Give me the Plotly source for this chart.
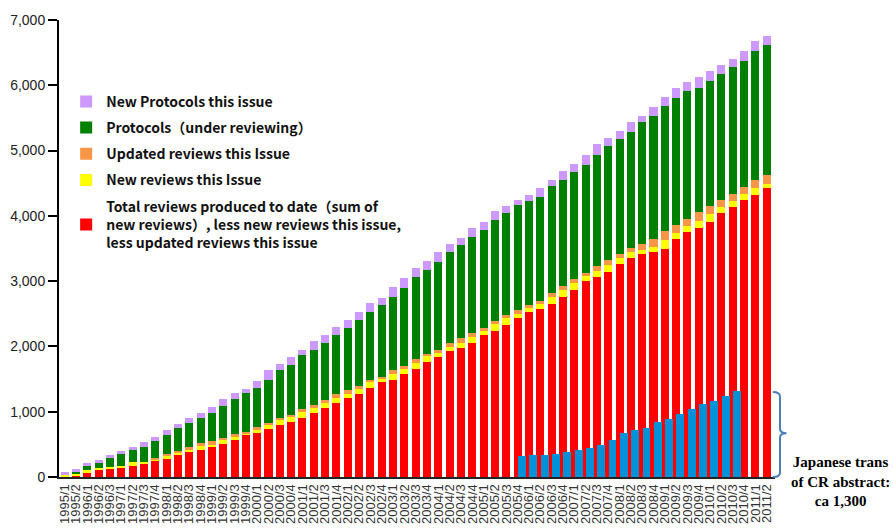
import plotly.graph_objects as go

issues = ["1995/1", "1995/2", "1996/1", "1996/2", "1996/3",
          "1997/1", "1997/2", "1997/3", "1997/4",
          "1998/1", "1998/2", "1998/3", "1998/4",
          "1999/1", "1999/2", "1999/3", "1999/4",
          "2000/1", "2000/2", "2000/3", "2000/4",
          "2001/1", "2001/2", "2001/3", "2001/4",
          "2002/1", "2002/2", "2002/3", "2002/4",
          "2003/1", "2003/2", "2003/3", "2003/4",
          "2004/1", "2004/2", "2004/3", "2004/4",
          "2005/1", "2005/2", "2005/3", "2005/4",
          "2006/1", "2006/2", "2006/3", "2006/4",
          "2007/1", "2007/2", "2007/3", "2007/4",
          "2008/1", "2008/2", "2008/3", "2008/4",
          "2009/1", "2009/2", "2009/3", "2009/4",
          "2010/1", "2010/2", "2010/3", "2010/4",
          "2011/1", "2011/2"]

total_reviews_less = [5, 15, 56, 102, 117, 148, 163, 194, 240, 270, 332, 377, 408,
                      454, 500, 561, 638, 680, 730, 790, 840, 898, 974, 1051, 1127,
                      1204, 1265, 1357, 1448, 1479, 1571, 1647, 1754, 1831, 1923, 1969, 2060,
                      2168, 2244, 2321, 2428, 2535, 2581, 2657, 2764, 2871, 3009, 3070, 3147,
                      3269, 3361, 3422, 3453, 3499, 3652, 3759, 3820, 3912, 4049, 4141, 4248,
                      4325, 4432]
new_reviews = [20, 41, 46, 31, 31, 15, 61, 31, 31, 46, 46, 31, 61,
               31, 61, 46, 31, 50, 70, 77, 73, 91, 92, 76, 77,
               61, 92, 91, 46, 92, 76, 92, 92, 61, 61, 91, 92,
               76, 92, 107, 76, 61, 76, 107, 107, 107, 76, 92, 107,
               92, 92, 61, 76, 137, 91, 92, 107, 122, 92, 92, 92,
               107, 61]
updated_reviews = [0, 0, 0, 0, 0, 0, 0, 0, 15, 31, 15, 46, 46,
                   61, 31, 46, 15, 30, 30, 31, 31, 46, 30, 46, 61,
                   61, 30, 31, 31, 61, 46, 61, 31, 61, 61, 62, 61,
                   31, 46, 46, 61, 31, 46, 61, 62, 62, 46, 77, 76,
                   61, 61, 92, 123, 138, 123, 107, 138, 123, 107, 107, 107,
                   122, 138]
protocols_reviewing = [0, 26, 61, 77, 138, 184, 184, 230, 260, 291, 352, 367, 383,
                       428, 490, 536, 597, 597, 649, 734, 765, 827, 842, 872, 903,
                       949, 1025, 1056, 1102, 1132, 1209, 1270, 1300, 1347, 1408, 1438, 1469,
                       1514, 1560, 1575, 1607, 1606, 1591, 1638, 1621, 1637, 1653, 1698, 1745,
                       1760, 1775, 1867, 1882, 1913, 1943, 1958, 1897, 1912, 1928, 1943, 1928,
                       1974, 1989]
new_protocols = [52, 36, 46, 46, 46, 46, 46, 77, 61, 77, 61, 77, 77,
                 92, 107, 92, 61, 107, 153, 92, 122, 76, 138, 123, 137,
                 137, 123, 137, 122, 153, 153, 138, 138, 153, 122, 107, 138,
                 123, 138, 108, 76, 92, 138, 91, 138, 122, 153, 168, 122,
                 122, 153, 92, 137, 137, 153, 138, 168, 153, 138, 123, 153,
                 153, 138]
japanese_trans = [None] * 40 + [322, 337, 337, 352, 383, 413, 444, 490, 567, 674,
                                720, 750, 842, 888, 965, 1041, 1118, 1164, 1240, 1317] + [None] * 3

series = [
    ("Total reviews produced to date（sum of<br>new reviews）, less new reviews this issue,<br>less updated reviews this issue",
     total_reviews_less, "#FF0000", 5),
    ("New reviews this Issue", new_reviews, "#FFFF00", 4),
    ("Updated reviews this Issue", updated_reviews, "#F79646", 3),
    ("Protocols（under reviewing）", protocols_reviewing, "#008000", 2),
    ("New Protocols this issue", new_protocols, "#CC99FF", 1),
]

fig = go.Figure()
for i, (name, vals, col, rank) in enumerate(series):
    fig.add_trace(go.Bar(x=issues, y=vals, name=name, marker_color=col,
                         marker_line_width=0, legendgroup=f"g{i}", legendrank=rank))

fig.add_trace(go.Bar(x=issues, y=japanese_trans, name="Japanese trans of CR abstract",
                     marker_color="#0092D8", marker_line_width=0, showlegend=False,
                     yaxis="y2", width=0.7, offset=0.03))

fig.update_layout(
    width=893, height=528,
    margin=dict(l=59, r=118, t=20, b=51),
    paper_bgcolor="white", plot_bgcolor="white",
    barmode="stack", bargap=0.29,
    font=dict(family="Liberation Sans, Arial, sans-serif", color="#222"),
    xaxis=dict(type="category", showline=True, linecolor="#222", linewidth=2,
               ticks="", tickangle=-90, tickfont=dict(size=13, color="#333"),
               tickmode="array", tickvals=issues, ticktext=issues,
               showgrid=False, automargin=False),
    yaxis=dict(range=[0, 7000], dtick=1000, tickformat=",d", showline=True,
               linecolor="black", linewidth=2, ticks="outside", ticklen=9,
               tickwidth=2, tickcolor="black", showgrid=False, zeroline=False,
               tickfont=dict(size=14, color="#222"), automargin=False),
    yaxis2=dict(range=[0, 7000], overlaying="y", visible=False),
    legend=dict(x=0.01, y=0.856, xanchor="left", yanchor="top",
                traceorder="grouped", tracegroupgap=5,
                font=dict(family="Noto Sans CJK JP", size=14, color="#111", weight="bold"),
                bgcolor="rgba(0,0,0,0)", itemwidth=30),
    showlegend=True,
)

fig.add_shape(type="path", xref="paper", yref="paper",
              path="M 0.997,0.186 Q 1.007,0.186 1.007,0.176 L 1.007,0.105 "
                   "Q 1.007,0.096 1.016,0.096 Q 1.007,0.096 1.007,0.087 "
                   "L 1.007,0.010 Q 1.007,0.0 0.997,0.0",
              line=dict(color="#4A7EBB", width=2))

fig.add_annotation(xref="paper", yref="paper", x=1.091, y=-0.009,
                   text="<b>Japanese trans<br>of CR abstract:<br>ca 1,300</b>",
                   showarrow=False, xanchor="center", yanchor="middle",
                   font=dict(family="Liberation Serif, Times New Roman, serif", size=15, color="black"))

fig.write_html("out.html", config={"displayModeBar": False},
               post_script="document.body.style.margin='0px';")
